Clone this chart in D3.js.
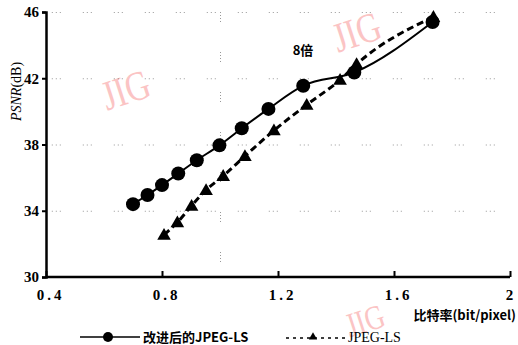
<!DOCTYPE html>
<html>
<head>
<meta charset="utf-8">
<script src="https://cdn.jsdelivr.net/npm/d3@7/dist/d3.min.js"></script>
<style>
  body { margin: 0; background: #fff; }
  svg { display: block; }
</style>
</head>
<body>
<div id="chart-area"></div>
<script>
// data
var improvedRate = [0.70, 0.75, 0.80, 0.856, 0.92, 0.998, 1.075, 1.167, 1.287, 1.463, 1.733];
var improvedPsnr = [34.4, 34.95, 35.55, 36.25, 37.05, 37.95, 38.98, 40.15, 41.55, 42.35, 45.4];
var lsRate = [0.807, 0.853, 0.902, 0.952, 1.011, 1.086, 1.186, 1.299, 1.414, 1.471, 1.736];
var lsPsnr = [32.55, 33.3, 34.3, 35.25, 36.1, 37.3, 38.85, 40.4, 41.9, 42.85, 45.7];
var xTicks = [0.4, 0.8, 1.2, 1.6, 2];
var yTicks = [30, 34, 38, 42, 46];
var seriesNames = ["改进后的JPEG-LS", "JPEG-LS"];

var W = 518, H = 345;
var svg = d3.select("#chart-area").append("svg")
    .attr("width", W).attr("height", H);

var x = d3.scaleLinear().domain([0.4, 2]).range([46, 510]);
var y = d3.scaleLinear().domain([30, 46]).range([277, 12]);

// watermarks
var marks = [[127, 94, 42], [358, 36, 42], [366, 324, 34]];
svg.selectAll(".wm").data(marks).enter().append("text")
    .attr("class", "wm")
    .attr("transform", function (d) { return "translate(" + d[0] + "," + d[1] + ") rotate(-18) scale(0.8,1)"; })
    .attr("text-anchor", "middle")
    .attr("dominant-baseline", "middle")
    .attr("font-family", "Liberation Serif")
    .attr("font-size", function (d) { return d[2] + "px"; })
    .attr("fill", "#fbc4c4")
    .text("JIG");

// sparse dotted grid (scan leftovers)
var grid = svg.append("g").attr("stroke", "#555").attr("stroke-width", 1)
    .attr("stroke-dasharray", "1,3,1,3,1,22").attr("opacity", 0.6);
yTicks.slice(1).forEach(function (v) {
    grid.append("line").attr("x1", x(0.42)).attr("x2", x(2)).attr("y1", y(v) + 0.5).attr("y2", y(v) + 0.5);
});
grid.append("line").attr("x1", x(1) + 0.5).attr("x2", x(1) + 0.5).attr("y1", y(46)).attr("y2", y(30.3))
    .attr("stroke-dasharray", "1,2,1,2,1,2,1,30");

// axes
var xAxis = svg.append("g").attr("transform", "translate(0," + y(30) + ")")
    .call(d3.axisBottom(x).tickValues(xTicks).tickSize(-6).tickPadding(12)
        .tickFormat(function (d) { return d === 2 ? "2" : d3.format(".1f")(d); }));
var yAxis = svg.append("g").attr("transform", "translate(" + x(0.4) + ",0)")
    .call(d3.axisLeft(y).tickValues(yTicks).tickSize(4).tickPadding(3));

[xAxis, yAxis].forEach(function (a) {
    a.select(".domain").attr("stroke", "#000").attr("stroke-width", 2.5);
    a.selectAll(".tick line").attr("stroke", "#000").attr("stroke-width", 2);
    a.selectAll("text").attr("fill", "#000").attr("font-family", "Liberation Serif")
        .attr("font-weight", "bold").attr("font-size", "15px");
});
xAxis.select(".domain").attr("d", "M" + x(0.4) + ",0H" + x(2));
xAxis.selectAll("text")
    .attr("dx", function (d) { return d === 2 ? "-1px" : "4px"; })
    .attr("letter-spacing", function (d) { return d === 2 ? "0px" : "3px"; });

// axis titles
svg.append("text")
    .attr("transform", "translate(21," + y(41.2) + ") rotate(-90)")
    .attr("text-anchor", "middle")
    .attr("font-family", "Liberation Serif").attr("font-size", "14px")
    .html('<tspan font-style="italic">PSNR</tspan>(dB)');

svg.append("text")
    .attr("x", 516).attr("y", 320)
    .attr("text-anchor", "end")
    .attr("font-family", "Noto Sans CJK SC, Liberation Serif").attr("font-size", "13px")
    .attr("font-weight", "bold")
    .text("比特率(bit/pixel)");

svg.append("text")
    .attr("x", 303).attr("y", 55)
    .attr("text-anchor", "middle")
    .attr("font-family", "Noto Sans CJK SC").attr("font-size", "13px").attr("font-weight", "bold")
    .text("8倍");

// series
var improved = improvedRate.map(function (r, i) { return [r, improvedPsnr[i]]; });
var ls = lsRate.map(function (r, i) { return [r, lsPsnr[i]]; });

var line = d3.line().x(function (d) { return x(d[0]); }).y(function (d) { return y(d[1]); })
    .curve(d3.curveMonotoneX);

svg.append("path").datum(ls).attr("d", line)
    .attr("fill", "none").attr("stroke", "#000").attr("stroke-width", 3)
    .attr("stroke-dasharray", "7,4");
svg.append("path").datum(improved).attr("d", line)
    .attr("fill", "none").attr("stroke", "#000").attr("stroke-width", 2);

var tri = d3.symbol().type(d3.symbolTriangle).size(80);
svg.selectAll(".tri").data(ls).enter().append("path")
    .attr("class", "tri")
    .attr("d", tri)
    .attr("transform", function (d) { return "translate(" + x(d[0]) + "," + (y(d[1]) + 1) + ")"; })
    .attr("fill", "#000");

svg.selectAll(".dot").data(improved).enter().append("circle")
    .attr("class", "dot")
    .attr("cx", function (d) { return x(d[0]); })
    .attr("cy", function (d) { return y(d[1]); })
    .attr("r", 7)
    .attr("fill", "#000");

// legend
var lg = svg.append("g").attr("font-family", "Noto Sans CJK SC, Liberation Serif")
    .attr("font-size", "13px").attr("font-weight", "bold");
lg.append("line").attr("x1", 80).attr("x2", 140).attr("y1", 337).attr("y2", 337)
    .attr("stroke", "#000").attr("stroke-width", 1.5);
lg.append("circle").attr("cx", 108).attr("cy", 337).attr("r", 5).attr("fill", "#000");
lg.append("text").attr("x", 143).attr("y", 342).text(seriesNames[0]);
lg.append("line").attr("x1", 286).attr("x2", 347).attr("y1", 338).attr("y2", 338)
    .attr("stroke", "#000").attr("stroke-width", 1.5).attr("stroke-dasharray", "3,4");
lg.append("path").attr("d", d3.symbol().type(d3.symbolTriangle).size(30))
    .attr("transform", "translate(313,337)").attr("fill", "#000");
lg.append("text").attr("x", 348).attr("y", 342).attr("font-family", "Liberation Serif")
    .attr("font-weight", "normal").attr("font-size", "14px").text(seriesNames[1]);
</script>
</body>
</html>
